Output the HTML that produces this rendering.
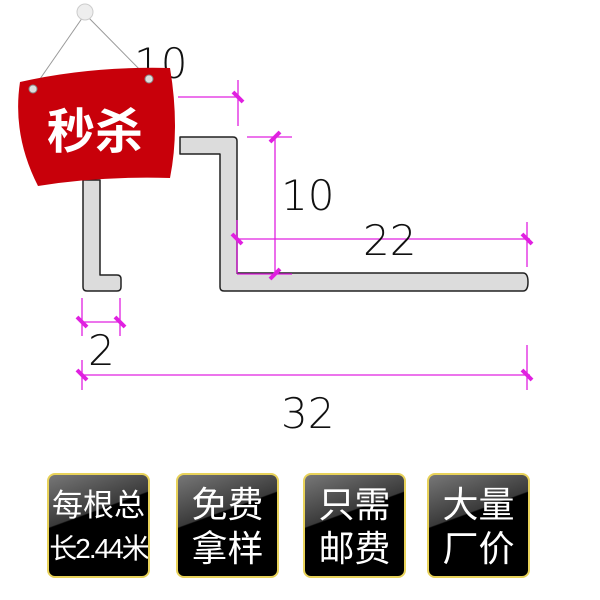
<!DOCTYPE html>
<html><head><meta charset="utf-8"><style>
body{margin:0;background:#fff;width:600px;height:600px;overflow:hidden;position:relative;font-family:"Liberation Sans","Noto Sans CJK SC",sans-serif}
.b{position:absolute;top:473px;width:103px;height:105px;border:2px solid #e8d25a;border-radius:8px;box-sizing:border-box;background:linear-gradient(160deg,#777 0%,#3a3a3a 38%,#000 39%,#000 100%);color:#fff;font-size:36px;line-height:44px;text-align:center;padding-top:8px;white-space:nowrap;overflow:hidden}
</style></head><body>
<svg width="600" height="600" style="position:absolute;left:0;top:0">
<g fill="#dcdcdc" stroke="#222" stroke-width="1.5" stroke-linejoin="round">
<path d="M83 180 L100 180 L100 275 L117 275 Q121 275 121 279 L121 287 Q121 291 117 291 L87 291 Q83 291 83 287 Z"/>
<path d="M180 137 L233 137 Q237 137 237 141 L237 273 L523 273 Q528 273 528 282 Q528 291 523 291 L224 291 Q220 291 220 287 L220 154 L180 154 Z"/>
</g>
<g stroke="#e020e0" stroke-width="1.3" fill="none">
<line x1="178" y1="97" x2="240" y2="97"/><line x1="238" y1="80" x2="238" y2="126"/>
<line x1="275" y1="137" x2="275" y2="273"/><line x1="247" y1="137" x2="292" y2="137"/><line x1="237" y1="274" x2="292" y2="274"/>
<line x1="237" y1="239" x2="530" y2="239"/><line x1="237" y1="220" x2="237" y2="273"/><line x1="527" y1="222" x2="527" y2="267"/>
<line x1="82" y1="322" x2="122" y2="322"/><line x1="82" y1="298" x2="82" y2="336"/><line x1="120" y1="298" x2="120" y2="336"/>
<line x1="80" y1="375" x2="530" y2="375"/><line x1="82" y1="360" x2="82" y2="390"/><line x1="527" y1="345" x2="527" y2="390"/>
</g>
<g stroke="#e020e0" stroke-width="4">
<line x1="233" y1="92" x2="243" y2="102"/><line x1="270" y1="142" x2="280" y2="132"/><line x1="270" y1="279" x2="280" y2="269"/>
<line x1="232" y1="234" x2="242" y2="244"/><line x1="522" y1="234" x2="532" y2="244"/>
<line x1="77" y1="317" x2="87" y2="327"/><line x1="115" y1="317" x2="125" y2="327"/>
<line x1="77" y1="370" x2="87" y2="380"/><line x1="522" y1="370" x2="532" y2="380"/>
</g>
<g font-family="DejaVu Sans,sans-serif" font-weight="200" font-size="42" fill="#111">
<text x="134" y="78">10</text><text x="281" y="210">10</text><text x="363" y="255">22</text><text x="88" y="365">2</text><text x="281" y="428">32</text>
</g>
<line x1="85" y1="14" x2="33" y2="89" stroke="#999" stroke-width="1"/>
<line x1="85" y1="14" x2="149" y2="79" stroke="#999" stroke-width="1"/>
<path d="M20 82 Q90 66 170 68 Q180 128 170 178 Q100 176 38 186 Q12 135 20 82 Z" fill="#c8000a"/>
<circle cx="33" cy="89" r="4" fill="#ddd" stroke="#888"/><circle cx="149" cy="79" r="4" fill="#ddd" stroke="#888"/>
<circle cx="85" cy="12" r="8" fill="#eee" stroke="#ccc"/>
<text x="95" y="148" text-anchor="middle" font-family="Noto Sans CJK SC,sans-serif" font-weight="bold" font-size="48" fill="#fff">秒杀</text>
</svg>
<div class="b" style="left:47px;font-size:31px;line-height:42px;padding-top:10px">每根总<br><span style="font-size:28px;letter-spacing:-2px">长2.44米</span></div>
<div class="b" style="left:176px">免费<br>拿样</div>
<div class="b" style="left:303px">只需<br>邮费</div>
<div class="b" style="left:427px">大量<br>厂价</div>
</body></html>
